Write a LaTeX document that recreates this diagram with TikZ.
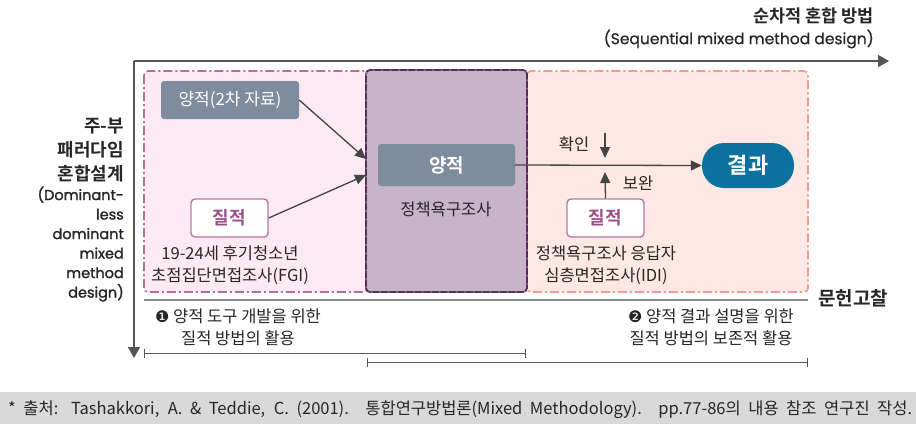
\documentclass[tikz,border=0pt]{standalone}
\usepackage{fontspec}
\setmainfont{Noto Sans CJK KR}[BoldFont={Noto Sans CJK KR Bold}]
\newfontfamily\dingfont{DejaVu Sans}
\newfontfamily\latfont{Poppins}[FakeBold=0.6]
\newfontfamily\latfontb{Poppins}[FakeBold=1.6]
\usetikzlibrary{arrows.meta}
\definecolor{axisgray}{HTML}{555555}
\definecolor{pinkfill}{HTML}{FBEAF1}
\definecolor{pinkline}{HTML}{B56E9C}
\definecolor{salfill}{HTML}{FDE8E4}
\definecolor{salline}{HTML}{F39C8E}
\definecolor{purfill}{HTML}{C8B4C9}
\definecolor{purline}{HTML}{5C2B57}
\definecolor{dotblue}{HTML}{8FA3D8}
\definecolor{slate}{HTML}{7F8C9D}
\definecolor{qualtxt}{HTML}{9E4F8A}
\definecolor{qualline}{HTML}{B07AA5}
\definecolor{resblue}{HTML}{0B72A0}
\definecolor{footgray}{HTML}{D9D9D9}
\definecolor{txt}{HTML}{262626}
\tikzset{
  axis/.style={draw=axisgray, line width=1.6pt, -{Triangle[length=11pt,width=12pt]}},
  conn/.style={draw=axisgray!80!black, line width=1.3pt, -{Triangle[length=11pt,width=10pt]}},
  quantbox/.style={fill=slate, rounded corners=3pt, text=white, inner sep=0pt, align=center},
  qualbox/.style={fill=white, draw=qualline, line width=1.4pt, rounded corners=4pt, text=qualtxt, font=\fontsize{18}{20}\selectfont\bfseries, minimum width=77pt, minimum height=38pt, inner sep=0pt},
  lab/.style={text=txt, font=\fontsize{16.5}{22}\selectfont, align=center, inner sep=0pt},
  brk/.style={draw=axisgray, line width=1pt, {Bar[width=9pt]}-{Bar[width=9pt]}},
}
\begin{document}
\begin{tikzpicture}[x=1pt,y=-1pt]
\useasboundingbox (0,0) rectangle (916,424);
% footer band
\fill[footgray] (0,392) rectangle (916,424);
\node[inner sep=0pt, anchor=west, font=\fontsize{16.5}{18}\selectfont, text=txt] (foot) at (8,410)
  {\makebox[904pt][s]{* 출처: Tashakkori, A. \& Teddie, C. (2001). 통합연구방법론(Mixed Methodology). pp.77-86의 내용 참조 연구진 작성.}};
% background boxes
\draw[fill=salfill, draw=salline, line width=1.6pt, rounded corners=4pt, dash pattern=on 9pt off 3pt on 2pt off 3pt] (527,71) rectangle (808,292);
\draw[fill=pinkfill, draw=pinkline, line width=1.6pt, rounded corners=4pt, dash pattern=on 9pt off 3pt on 2pt off 3pt] (144,71) rectangle (367,292);
\draw[fill=purfill, draw=purline, line width=1.8pt, rounded corners=4pt] (366,70) rectangle (527,292);
\draw[draw=dotblue, line width=1pt, rounded corners=4pt, dash pattern=on 1.5pt off 7pt] (366,70) rectangle (527,292);
% axes
\coordinate (corner) at (134,61);
\coordinate (xend) at (889,61);
\coordinate (yend) at (134,358);
\draw[axis] (corner) -- (xend);
\draw[axis] (corner) -- (yend);
% titles
\node[anchor=east, inner sep=0pt, font=\fontsize{17.5}{20}\selectfont\bfseries, text=txt] (ttl) at (874,16) {순차적 혼합 방법};
\node[anchor=east, inner sep=0pt, font=\latfont\fontsize{15.5}{18}\selectfont, text=txt] (ttl2) at (874,39) {(Sequential mixed method design)};
% left labels
\node[anchor=east, inner sep=0pt, align=right, font=\fontsize{18}{24}\selectfont\bfseries, text=txt] (ylab) at (124,150) {주-부\\패러다임\\혼합설계};
\node[anchor=east, inner sep=0pt, align=right, font=\latfontb\fontsize{14.5}{19.5}\selectfont, text=txt] (ylab2) at (124,244) {(Dominant-\\less\\dominant\\mixed\\method\\design)};
% nodes
\node[quantbox, font=\fontsize{17}{20}\selectfont, minimum width=138pt, minimum height=38pt] (q2) at (230,100) {양적(2차 자료)};
\node[quantbox, font=\fontsize{19}{22}\selectfont\bfseries, minimum width=137pt, minimum height=42pt] (qm) at (446.5,165) {양적};
\node[lab] (qmlab) at (446,209) {정책욕구조사};
\node[qualbox] (ql) at (229.5,218) {질적};
\node[lab] (qllab) at (230,265) {19-24세 후기청소년\\초점집단면접조사(FGI)};
\node[qualbox] (qr) at (605.5,218) {질적};
\node[lab] (qrlab) at (606,265) {정책욕구조사 응답자\\심층면접조사(IDI)};
\node[fill=resblue, rounded corners=22pt, minimum width=92pt, minimum height=45pt, inner sep=0pt, text=white, font=\fontsize{22}{24}\selectfont\bfseries] (res) at (748,165.5) {결과};
% connectors
\draw[conn] (q2.east) -- (366,159);
\draw[conn] (ql.east) -- (366,175);
\draw[conn] (qm.east) -- (res.west);
\coordinate (chk0) at (605,133);
\coordinate (chk1) at (605,158);
\coordinate (sup1) at (605,172);
\draw[conn] (chk0) -- (chk1);
\draw[conn] (qr.north) -- (sup1);
\node[lab] (chk) at (574,144) {확인};
\node[lab] (sup) at (638,183) {보완};
% bottom line
\draw[draw=axisgray!70, line width=2.2pt] (144,300) -- (808,300);
\node[anchor=west, inner sep=0pt, font=\fontsize{19}{20}\selectfont\bfseries, text=txt] (lit) at (818,298) {문헌고찰};
\node[lab] (p1) at (238,327) {{\dingfont\fontsize{16}{16}\selectfont ❶} 양적 도구 개발을 위한\\질적 방법의 활용};
\node[lab] (p2) at (711,327) {{\dingfont\fontsize{16}{16}\selectfont ❷} 양적 결과 설명을 위한\\질적 방법의 보존적 활용};
\coordinate (b1a) at (144,353);
\coordinate (b1b) at (526,353);
\coordinate (b2a) at (367,362);
\coordinate (b2b) at (808,362);
\draw[brk] (b1a) -- (b1b);
\draw[brk] (b2a) -- (b2b);
\end{tikzpicture}
\end{document}
